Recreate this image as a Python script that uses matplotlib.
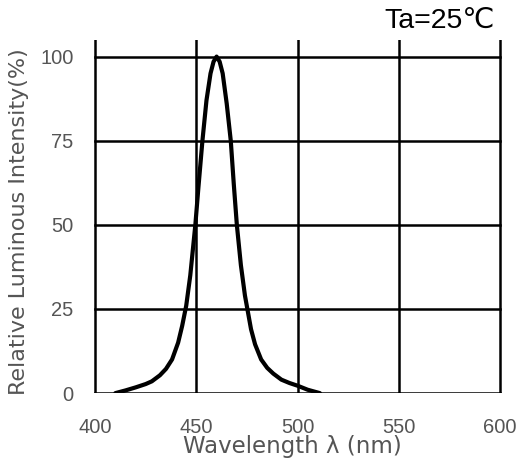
import matplotlib.pyplot as plt

# spectrum
wavelength = [410, 415, 420, 425, 428, 432, 435, 438, 441, 443, 445, 447, 449.5,
              451, 453, 455, 457, 458.5, 460, 461.5, 463, 465, 467, 468.5, 470,
              472, 474, 475.5, 477, 479, 482, 485, 488, 492, 496, 500, 505, 511]
intensity = [0, 0.8, 1.7, 2.7, 3.5, 5.3, 7.2, 10, 15, 20, 26, 35, 50,
             61, 75, 87, 95, 98.5, 100, 98.5, 95, 86, 75, 62, 50,
             38, 29, 24, 19, 14.5, 10, 7.5, 5.8, 4, 3, 2.2, 1, 0]

x_ticks = [400, 450, 500, 550, 600]
y_ticks = [0, 25, 50, 75, 100]

plt.rcParams['font.family'] = ['Liberation Sans', 'DejaVu Sans']

fig = plt.figure(figsize=(5.23, 4.68), dpi=100)
ax = fig.add_axes([0.178, 0.160, 0.782, 0.755])

ax.plot(wavelength, intensity, color='black', lw=3, solid_capstyle='round', zorder=3)

# grid: vertical lines reach the top, horizontal stop at 100
for x in x_ticks:
    ax.plot([x, x], [0, 105], color='black', lw=1.8, zorder=2)
for y in y_ticks:
    ax.plot([400, 600], [y, y], color='black', lw=1.8, zorder=2)

ax.set_xlim(399, 601)
ax.set_ylim(0, 105)
ax.set_xticks(x_ticks)
ax.set_yticks(y_ticks)
for s in ax.spines.values():
    s.set_visible(False)
ax.tick_params(length=0, labelsize=14.5, labelcolor='#555555')
ax.tick_params(axis='x', pad=18)
ax.tick_params(axis='y', pad=14)

# axis titles placed in figure pixels
fig.text(292 / 523, 1 - 447 / 468, 'Wavelength λ (nm)', family='DejaVu Sans',
         fontsize=16.5, color='#555555', ha='center', va='center')
fig.text(19 / 523, 1 - 222 / 468, 'Relative Luminous Intensity(%)', family='DejaVu Sans',
         fontsize=16, color='#555555', ha='center', va='center', rotation=90)
fig.text(495 / 523, 1 - 21 / 468, 'Ta=25℃', ha='right', va='center',
         fontsize=20.5, color='black')

plt.savefig('out.png', dpi=100)
